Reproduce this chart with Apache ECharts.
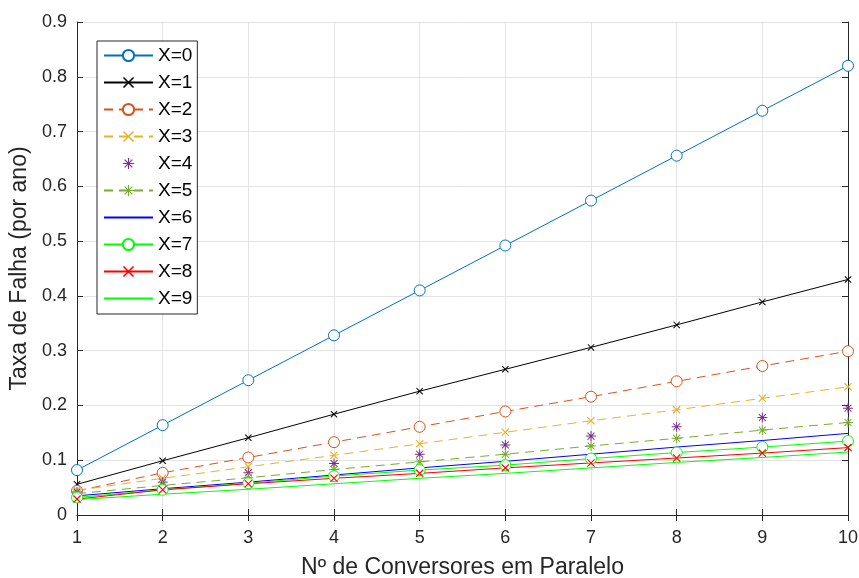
<!DOCTYPE html>
<html>
<head>
<meta charset="utf-8">
<script src="https://cdn.jsdelivr.net/npm/echarts@6/dist/echarts.min.js"></script>
<style>
  html, body { margin: 0; padding: 0; background: #fff; }
  #chart { width: 859px; height: 578px; }
</style>
</head>
<body>
<div id="chart"></div>
<script>
// Number of parallel converters (x axis)
const converters = [1, 2, 3, 4, 5, 6, 7, 8, 9, 10];

// Failure rate per year for each X
const rateX0 = [0.082, 0.164, 0.246, 0.328, 0.410, 0.492, 0.574, 0.656, 0.738, 0.820];
const rateX1 = [0.056, 0.099, 0.141, 0.184, 0.226, 0.266, 0.306, 0.347, 0.389, 0.430];
const rateX2 = [0.044, 0.077, 0.105, 0.133, 0.161, 0.189, 0.216, 0.244, 0.272, 0.299];
const rateX3 = [0.045, 0.067, 0.088, 0.109, 0.130, 0.151, 0.172, 0.192, 0.213, 0.234];
const rateX4 = [0.042, 0.060, 0.077, 0.094, 0.111, 0.128, 0.144, 0.161, 0.178, 0.195];
const rateX5 = [0.039, 0.054, 0.068, 0.083, 0.097, 0.111, 0.126, 0.140, 0.155, 0.169];
const rateX6 = [0.035, 0.048, 0.060, 0.073, 0.086, 0.098, 0.111, 0.124, 0.136, 0.149];
const rateX7 = [0.032, 0.046, 0.058, 0.071, 0.082, 0.091, 0.103, 0.114, 0.124, 0.135];
const rateX8 = [0.029, 0.046, 0.057, 0.067, 0.076, 0.086, 0.095, 0.104, 0.113, 0.123];
const rateX9 = [0.028, 0.038, 0.047, 0.057, 0.067, 0.076, 0.086, 0.096, 0.105, 0.115];

const seriesNames = ['X=0', 'X=1', 'X=2', 'X=3', 'X=4', 'X=5', 'X=6', 'X=7', 'X=8', 'X=9'];
const seriesColors = ['#0072BD', '#000000', '#D95319', '#EDB120', '#7E2F8E',
                      '#77AC30', '#0000FF', '#00FF00', '#FF0000', '#00FF00'];
const yTicks = [0, 0.1, 0.2, 0.3, 0.4, 0.5, 0.6, 0.7, 0.8, 0.9];

// Marker glyphs drawn as thin filled outlines
const CROSS = 'path://M0,1L1,0L10,9L9,10ZM9,0L10,1L1,10L0,9Z';
const STAR = 'path://M4.5,0L5.5,0L5.5,10L4.5,10ZM0,4.5L10,4.5L10,5.5L0,5.5ZM1.2,1.9L1.9,1.2L8.8,8.1L8.1,8.8ZM8.1,1.2L8.8,1.9L1.9,8.8L1.2,8.1Z';

const FONT = '"Liberation Sans", Arial, Helvetica, sans-serif';
const AXIS_COLOR = '#262626';

function line(i, values, opts) {
  const color = seriesColors[i];
  return {
    name: seriesNames[i],
    type: 'line',
    data: converters.map((c, k) => [c, values[k]]),
    symbol: opts.symbol || 'circle',
    symbolSize: opts.size || 10,
    showSymbol: !!opts.symbol,
    lineStyle: {
      color: color,
      width: opts.noLine ? 0 : 1,
      opacity: opts.noLine ? 0 : 1,
      type: opts.dashed ? [9, 6] : 'solid'
    },
    itemStyle: {
      color: opts.hollow ? '#fff' : color,
      borderColor: color,
      borderWidth: opts.hollow ? 1 : 0,
      opacity: 1
    },
    emphasis: { disabled: true },
    silent: true,
    animation: false
  };
}

const series = [
  line(0, rateX0, { symbol: 'circle', hollow: true, size: 11 }),
  line(1, rateX1, { symbol: CROSS, size: 7 }),
  line(2, rateX2, { symbol: 'circle', hollow: true, size: 11, dashed: true }),
  line(3, rateX3, { symbol: CROSS, size: 8, dashed: true }),
  line(4, rateX4, { symbol: STAR, size: 10, noLine: true }),
  line(5, rateX5, { symbol: STAR, size: 10, dashed: true }),
  line(6, rateX6, {}),
  line(7, rateX7, { symbol: 'circle', hollow: true, size: 11 }),
  line(8, rateX8, { symbol: CROSS, size: 8 }),
  line(9, rateX9, {})
];

// Entries for marker-less series show only their line in the legend
const legendData = seriesNames.map((n, i) =>
  (i === 6 || i === 9)
    ? { name: n, itemStyle: { opacity: 0 } }
    : { name: n });

const chart = echarts.init(document.getElementById('chart'), null, { renderer: 'canvas' });

const tickStyle = { show: true, inside: true, length: 6, lineStyle: { color: AXIS_COLOR, width: 1 } };

chart.setOption({
  backgroundColor: '#ffffff',
  animation: false,
  textStyle: { fontFamily: FONT },
  grid: { left: 77, right: 11, top: 22, bottom: 63, containLabel: false, outerBoundsMode: 'none' },
  legend: {
    data: legendData,
    orient: 'vertical',
    left: 97,
    top: 41,
    itemWidth: 49,
    itemHeight: 14,
    itemGap: 8,
    padding: [5, 5, 6, 6],
    backgroundColor: '#ffffff',
    borderColor: AXIS_COLOR,
    borderWidth: 1,
    borderRadius: 0,
    selectedMode: false,
    textStyle: { fontFamily: FONT, fontSize: 19, color: '#000' }
  },
  xAxis: [
    {
      type: 'value',
      min: 1,
      max: 10,
      interval: 1,
      name: 'Nº de Conversores em Paralelo',
      nameLocation: 'middle',
      nameGap: 41,
      nameTextStyle: { fontFamily: FONT, fontSize: 23, color: AXIS_COLOR },
      axisLine: { show: true, lineStyle: { color: AXIS_COLOR, width: 1 } },
      axisTick: tickStyle,
      axisLabel: { fontFamily: FONT, fontSize: 18, color: AXIS_COLOR, margin: 14 },
      splitLine: { show: true, lineStyle: { color: '#e3e3e3', width: 1 } }
    },
    {
      type: 'value',
      position: 'top',
      min: 1,
      max: 10,
      interval: 1,
      axisLine: { show: true, lineStyle: { color: AXIS_COLOR, width: 1 } },
      axisTick: tickStyle,
      axisLabel: { show: false },
      splitLine: { show: false }
    }
  ],
  yAxis: [
    {
      type: 'value',
      min: yTicks[0],
      max: yTicks[yTicks.length - 1],
      interval: 0.1,
      name: 'Taxa de Falha (por ano)',
      nameLocation: 'middle',
      nameGap: 43,
      nameTextStyle: { fontFamily: FONT, fontSize: 23, color: AXIS_COLOR },
      axisLine: { show: true, lineStyle: { color: AXIS_COLOR, width: 1 } },
      axisTick: tickStyle,
      axisLabel: {
        fontFamily: FONT, fontSize: 18, color: AXIS_COLOR, margin: 10,
        formatter: v => String(Math.round(v * 10) / 10)
      },
      splitLine: { show: true, lineStyle: { color: '#e3e3e3', width: 1 } }
    },
    {
      type: 'value',
      position: 'right',
      min: yTicks[0],
      max: yTicks[yTicks.length - 1],
      interval: 0.1,
      axisLine: { show: true, lineStyle: { color: AXIS_COLOR, width: 1 } },
      axisTick: tickStyle,
      axisLabel: { show: false },
      splitLine: { show: false }
    }
  ],
  series: series
});
</script>
</body>
</html>
